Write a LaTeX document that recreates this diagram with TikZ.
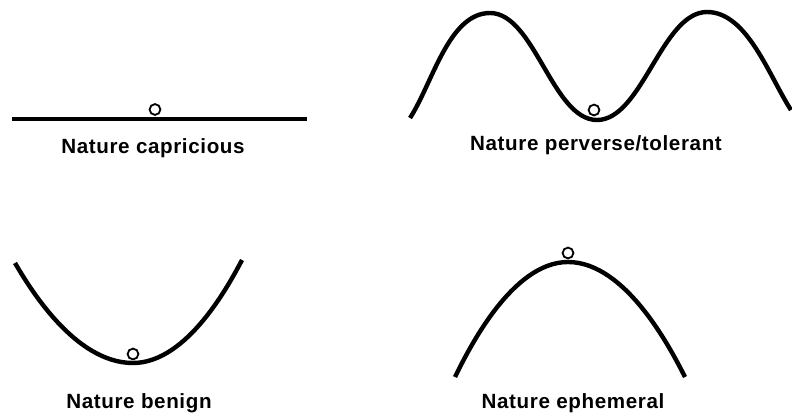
\documentclass[tikz,border=0pt]{standalone}
\usepackage{fontspec}
\setmainfont{Liberation Sans}
\usetikzlibrary{positioning}
\tikzset{
  ground/.style={line width=2.2pt},
  ball/.style={circle,draw,line width=0.9pt,inner sep=0pt,minimum size=5.4pt},
  caption/.style={inner sep=0pt,font=\addfontfeatures{LetterSpace=3}\fontsize{10.3}{12}\selectfont\bfseries}
}
\begin{document}
\begin{tikzpicture}[x=0.5pt,y=0.5pt]
\useasboundingbox (0,0) rectangle (792,419);
% capricious
\draw[ground] (12,300) -- (307,300);
\node[ball] (ball1) at (155,309.5) {};
\node[caption] (capricious) at (153,271) {Nature capricious};
% perverse/tolerant
\draw[ground] (410,301) to[out=57,in=180,looseness=0.8] (490,406)
  to[out=0,in=180,looseness=0.75] (597,299)
  to[out=0,in=180,looseness=0.75] (707,407)
  to[out=0,in=123,looseness=0.8] (791,309);
\node[ball] (ball2) at (594,309) {};
\node[caption] (perverse) at (596,274) {Nature perverse/tolerant};
% benign
\draw[ground] (15,156) parabola bend (133,56) (242,159);
\node[ball] (ball3) at (133,65) {};
\node[caption] (benign) at (139,16) {Nature benign};
% ephemeral
\draw[ground] (455,42) parabola bend (568,157) (685,42);
\node[ball] (ball4) at (568,166) {};
\node[caption] (ephemeral) at (573,16) {Nature ephemeral};
\end{tikzpicture}
\end{document}
